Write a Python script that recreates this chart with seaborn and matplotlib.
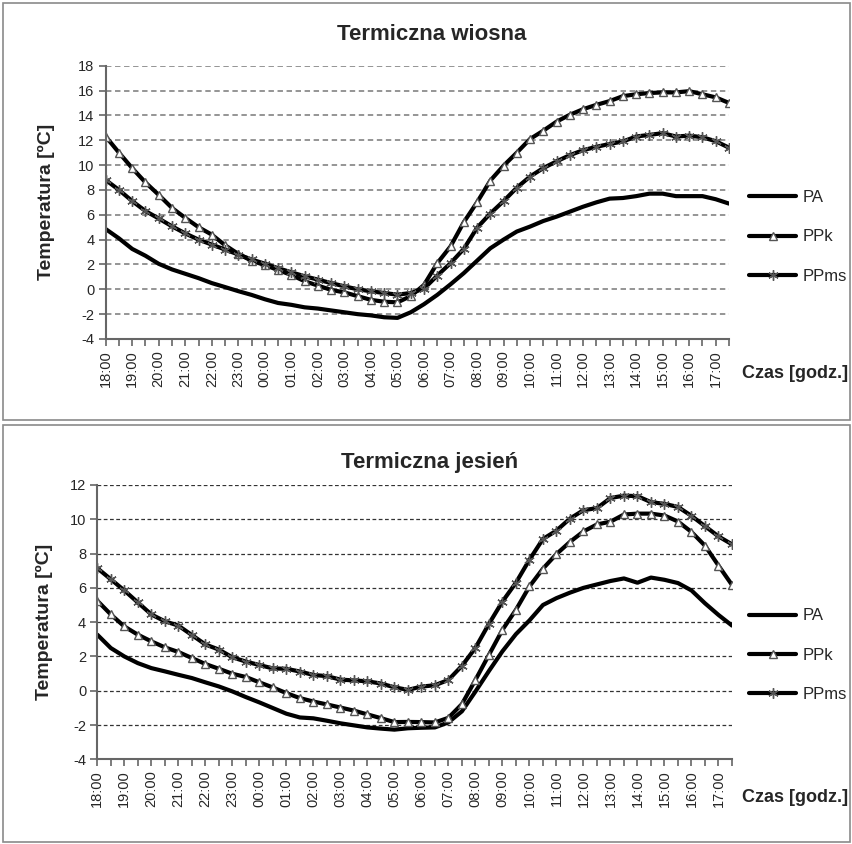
import numpy as np
import pandas as pd
import matplotlib
matplotlib.use("Agg")
import matplotlib.pyplot as plt
import seaborn as sns
from matplotlib.lines import Line2D
from matplotlib.patches import Rectangle

# ---------------- data ----------------
hour_labels = ["18:00", "19:00", "20:00", "21:00", "22:00", "23:00", "00:00", "01:00",
               "02:00", "03:00", "04:00", "05:00", "06:00", "07:00", "08:00", "09:00",
               "10:00", "11:00", "12:00", "13:00", "14:00", "15:00", "16:00", "17:00"]
# half-hourly time slots 18:00 ... 17:30
times = [h + m for h in hour_labels for m in (":00", ":30")]
times = [t[:2] + t[-3:] for t in times]

spring_PA = [4.85, 4.1, 3.25, 2.7, 2.05, 1.6, 1.25, 0.9, 0.5, 0.18, -0.15, -0.45,
             -0.8, -1.1, -1.25, -1.45, -1.55, -1.7, -1.85, -2.0, -2.1, -2.25, -2.3, -1.85,
             -1.2, -0.45, 0.4, 1.3, 2.3, 3.3, 4.0, 4.65, 5.05, 5.5, 5.85, 6.25,
             6.65, 7.0, 7.3, 7.35, 7.5, 7.7, 7.7, 7.5, 7.5, 7.5, 7.25, 6.9]
spring_PPk = [12.3, 11.0, 9.75, 8.6, 7.6, 6.55, 5.75, 5.0, 4.4, 3.55, 2.85, 2.3,
              1.95, 1.55, 1.15, 0.65, 0.3, -0.05, -0.25, -0.55, -0.85, -1.0, -1.05, -0.55,
              0.35, 2.1, 3.45, 5.4, 7.0, 8.75, 9.95, 11.0, 12.1, 12.77, 13.5, 14.05,
              14.5, 14.85, 15.15, 15.55, 15.7, 15.8, 15.85, 15.85, 15.95, 15.7, 15.45, 15.0]
spring_PPms = [8.8, 8.0, 7.1, 6.3, 5.7, 5.07, 4.5, 4.0, 3.6, 3.2, 2.8, 2.4,
               2.06, 1.7, 1.37, 1.05, 0.78, 0.5, 0.24, 0.0, -0.16, -0.3, -0.43, -0.3,
               0.05, 1.1, 2.1, 3.25, 4.95, 6.1, 7.1, 8.18, 9.08, 9.76, 10.3, 10.8,
               11.2, 11.47, 11.7, 11.9, 12.3, 12.43, 12.57, 12.3, 12.37, 12.24, 11.92, 11.4]

autumn_PA = [3.27, 2.49, 2.0, 1.61, 1.32, 1.13, 0.93, 0.74, 0.49, 0.25, -0.04, -0.37,
             -0.68, -1.01, -1.34, -1.56, -1.61, -1.75, -1.9, -2.02, -2.14, -2.21, -2.27, -2.19,
             -2.16, -2.14, -1.85, -1.2, -0.05, 1.15, 2.3, 3.3, 4.1, 5.0, 5.4, 5.72,
             6.0, 6.2, 6.4, 6.55, 6.3, 6.6, 6.47, 6.28, 5.85, 5.1, 4.42, 3.8]
autumn_PPk = [5.25, 4.45, 3.75, 3.27, 2.88, 2.53, 2.26, 1.91, 1.56, 1.28, 0.99, 0.8,
              0.49, 0.19, -0.14, -0.43, -0.63, -0.8, -0.98, -1.16, -1.38, -1.6, -1.83, -1.82,
              -1.83, -1.85, -1.58, -0.78, 0.63, 2.09, 3.55, 4.72, 6.08, 7.12, 7.97, 8.68,
              9.29, 9.7, 9.86, 10.28, 10.33, 10.33, 10.22, 9.87, 9.26, 8.46, 7.3, 6.17]
autumn_PPms = [7.15, 6.5, 5.85, 5.15, 4.45, 4.05, 3.8, 3.25, 2.7, 2.4, 1.95, 1.7,
               1.5, 1.3, 1.28, 1.12, 0.92, 0.85, 0.65, 0.6, 0.55, 0.42, 0.2, 0.05,
               0.24, 0.32, 0.63, 1.45, 2.5, 3.9, 5.2, 6.3, 7.64, 8.85, 9.34, 10.04,
               10.53, 10.65, 11.24, 11.38, 11.35, 11.0, 10.9, 10.72, 10.2, 9.6, 9.0, 8.54]

series_names = ["PA", "PPk", "PPms"]
titles = ["Termiczna wiosna", "Termiczna jesień"]

# ---------------- style ----------------
sns.set_theme(style="white")
plt.rcParams["font.family"] = ["Liberation Sans", "DejaVu Sans"]
plt.rcParams["axes.unicode_minus"] = False

styles = {
    "PA": dict(marker=None),
    "PPk": dict(marker="^", markersize=5.5, markerfacecolor="white",
                markeredgecolor="#555555", markeredgewidth=1.0),
    "PPms": dict(marker=(6, 2, 0), markersize=7.5, markerfacecolor="none",
                 markeredgecolor="#555555", markeredgewidth=1.0),
}

W, H = 853, 844
fig = plt.figure(figsize=(W / 100, H / 100), dpi=100)

# chart borders
for (y0, y1) in [(3, 420), (425, 842)]:
    fig.patches.append(Rectangle((3 / W, 1 - y1 / H), (850 - 3) / W, (y1 - y0) / H,
                                 transform=fig.transFigure, fill=False,
                                 edgecolor="#8a8a8a", linewidth=1.2))

panels = [
    dict(data=[spring_PA, spring_PPk, spring_PPms], ylim=(-4, 18),
         box=(105.7, 729, 65.7, 339), title_y=35, title_x=432,
         grid_color="#8c8c8c", grid_lw=1.3, leg_y=237, xlab_y=373, ylab_x=55),
    dict(data=[autumn_PA, autumn_PPk, autumn_PPms], ylim=(-4, 12),
         box=(97.3, 732, 485, 759.3), title_y=462, title_x=430,
         grid_color="#333333", grid_lw=0.9, leg_y=655, xlab_y=797, ylab_x=53),
]

xpos = np.arange(len(times))
for p, title in zip(panels, titles):
    x0, x1, yt, yb = p["box"]
    ax = fig.add_axes([x0 / W, 1 - yb / H, (x1 - x0) / W, (yb - yt) / H])
    for name, vals in zip(series_names, p["data"]):
        df = pd.DataFrame({"x": xpos, "y": vals})
        sns.lineplot(data=df, x="x", y="y", ax=ax, color="black", linewidth=3.0,
                     **styles[name])
    ax.set_xlim(0, len(times) - 1)
    ax.set_ylim(*p["ylim"])
    ax.set_yticks(np.arange(p["ylim"][0], p["ylim"][1] + 1, 2))
    ax.set_xticks(xpos)
    ax.set_xticklabels([t if t.endswith(":00") else "" for t in times],
                       rotation=90, fontsize=10.5)
    ax.tick_params(axis="y", labelsize=10.5, length=5, width=1.2, color="#666666",
                   left=True, pad=3)
    ax.tick_params(axis="x", length=5, width=1.2, color="#666666", bottom=True, pad=3)
    ax.yaxis.grid(True, linestyle=(0, (3, 2)), color=p["grid_color"], linewidth=p["grid_lw"])
    ax.xaxis.grid(False)
    for s in ["top", "right"]:
        ax.spines[s].set_visible(False)
    for s in ["left", "bottom"]:
        ax.spines[s].set_color("#666666")
        ax.spines[s].set_linewidth(1.5)
    ax.set_xlabel("")
    ax.set_ylabel("Temperatura [ºC]", fontsize=14, fontweight="bold")
    ax.yaxis.set_label_coords((p["ylab_x"] - x0) / (x1 - x0), 0.5)
    fig.text(p["title_x"] / W, 1 - p["title_y"] / H, title, ha="center", va="center",
             fontsize=16, fontweight="bold")
    fig.text(742 / W, 1 - p["xlab_y"] / H, "Czas [godz.]", ha="left", va="center",
             fontsize=13, fontweight="bold")
    handles = [Line2D([0], [0], color="black", linewidth=3.0, **styles[n]) for n in series_names]
    fig.legend(handles, series_names, loc="center left",
               bbox_to_anchor=(741 / W, 1 - p["leg_y"] / H),
               bbox_transform=fig.transFigure, frameon=False, fontsize=12,
               handlelength=2.8, handletextpad=0.4, labelspacing=1.45, borderpad=0)

fig.savefig("out.png", dpi=100, facecolor="white")
